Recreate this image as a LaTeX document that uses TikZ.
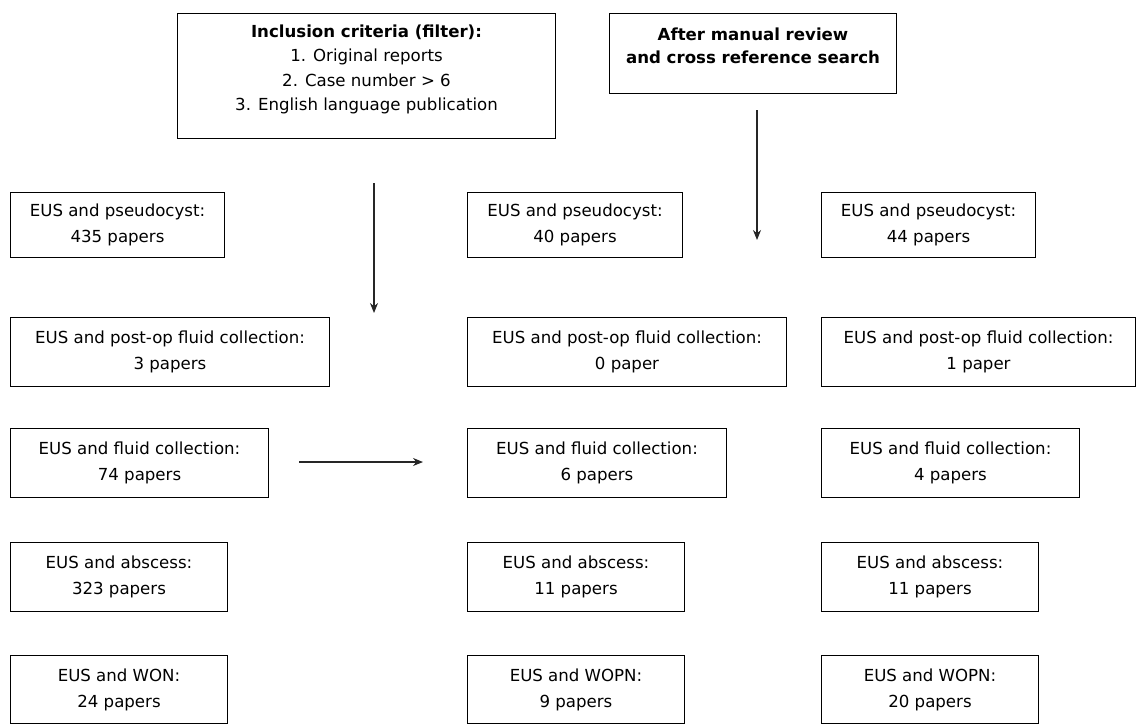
\documentclass[tikz,border=0pt]{standalone}
\usepackage{fontspec}
\setmainfont{DejaVu Sans}
\usetikzlibrary{arrows.meta}
\begin{document}
\begin{tikzpicture}[x=1pt,y=-1pt,
  box/.style={draw=black, line width=1pt, anchor=north west, inner sep=0pt,
    align=center, font=\fontsize{16.6}{26}\selectfont},
  topbox/.style={box, font=\fontsize{16.6}{24.5}\selectfont},
  conn/.style={draw=black!85, line width=1.1pt, -{Stealth[length=10pt,width=8pt]}}]
\useasboundingbox (0,0) rectangle (1136,724);
% top boxes
\node[topbox, minimum width=378pt, minimum height=125pt] (inc) at (177,13)
  {\textbf{Inclusion criteria (filter):}\\1. Original reports\\2. Case number > 6\\3. English language publication\\[-8pt]\mbox{}};
\node[topbox, font=\fontsize{16.6}{23}\selectfont, minimum width=287pt, minimum height=80pt] (man) at (609,13)
  {\textbf{After manual review}\\\textbf{and cross reference search}\\[-8pt]\mbox{}};
% left column
\node[box, minimum width=214pt, minimum height=65pt] (l1) at (10,192) {EUS and pseudocyst:\\435 papers};
\node[box, minimum width=319pt, minimum height=69pt] (l2) at (10,317) {EUS and post-op fluid collection:\\3 papers};
\node[box, minimum width=258pt, minimum height=69pt] (l3) at (10,428) {EUS and fluid collection:\\74 papers};
\node[box, minimum width=217pt, minimum height=69pt] (l4) at (10,542) {EUS and abscess:\\323 papers};
\node[box, minimum width=217pt, minimum height=68pt] (l5) at (10,655) {EUS and WON:\\24 papers};
% middle column
\node[box, minimum width=215pt, minimum height=65pt] (m1) at (467,192) {EUS and pseudocyst:\\40 papers};
\node[box, minimum width=319pt, minimum height=69pt] (m2) at (467,317) {EUS and post-op fluid collection:\\0 paper};
\node[box, minimum width=259pt, minimum height=69pt] (m3) at (467,428) {EUS and fluid collection:\\6 papers};
\node[box, minimum width=217pt, minimum height=69pt] (m4) at (467,542) {EUS and abscess:\\11 papers};
\node[box, minimum width=217pt, minimum height=68pt] (m5) at (467,655) {EUS and WOPN:\\9 papers};
% right column
\node[box, minimum width=214pt, minimum height=65pt] (r1) at (821,192) {EUS and pseudocyst:\\44 papers};
\node[box, minimum width=314pt, minimum height=69pt] (r2) at (821,317) {EUS and post-op fluid collection:\\1 paper};
\node[box, minimum width=258pt, minimum height=69pt] (r3) at (821,428) {EUS and fluid collection:\\4 papers};
\node[box, minimum width=217pt, minimum height=69pt] (r4) at (821,542) {EUS and abscess:\\11 papers};
\node[box, minimum width=217pt, minimum height=68pt] (r5) at (821,655) {EUS and WOPN:\\20 papers};
% connectors
\coordinate (a1s) at (374,183);
\coordinate (a1e) at (374,313);
\coordinate (a2s) at (757,110);
\coordinate (a2e) at (757,240);
\coordinate (a3s) at (299,462);
\coordinate (a3e) at (423,462);
\draw[conn] (a1s) -- (a1e);
\draw[conn] (a2s) -- (a2e);
\draw[conn] (a3s) -- (a3e);
\end{tikzpicture}
\end{document}
